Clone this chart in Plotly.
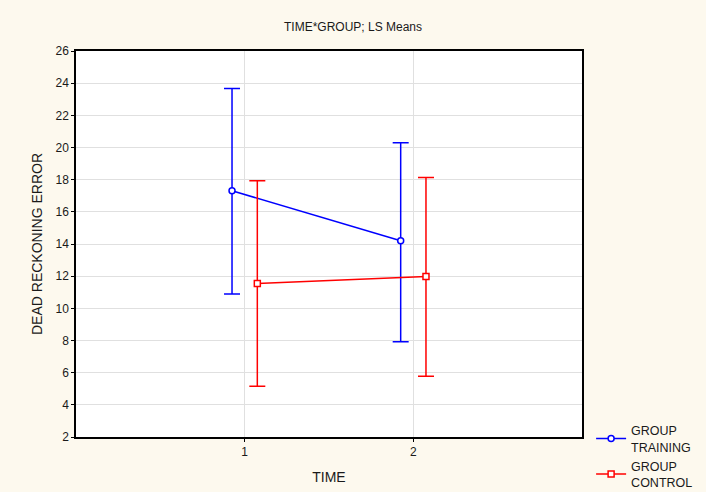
import plotly.graph_objects as go

time_levels = [1, 2]
training_mean = [17.31, 14.2]
training_upper = [23.67, 20.3]
training_lower = [10.89, 7.92]
control_mean = [11.55, 11.98]
control_upper = [17.93, 18.14]
control_lower = [5.15, 5.77]
offset = 0.075

fig = go.Figure()

def add_series(means, upper, lower, name, color, symbol, shift):
    xs = [t + shift for t in time_levels]
    fig.add_trace(go.Scatter(
        x=xs, y=means, name=name, mode="lines+markers",
        line=dict(color=color, width=1.5),
        marker=dict(symbol=symbol, size=6, color="white",
                    line=dict(color=color, width=1.5)),
        error_y=dict(type="data", symmetric=False,
                     array=[u - m for u, m in zip(upper, means)],
                     arrayminus=[m - l for m, l in zip(means, lower)],
                     color=color, thickness=1.5, width=8),
    ))

add_series(training_mean, training_upper, training_lower,
           "GROUP<br>TRAINING", "#0000FF", "circle", -offset)
add_series(control_mean, control_upper, control_lower,
           "GROUP<br>CONTROL", "#FF0000", "square", offset)

font = "Liberation Sans, Arial, sans-serif"
fig.update_layout(
    width=706, height=492,
    paper_bgcolor="#FDF9EE", plot_bgcolor="white",
    margin=dict(l=76, r=124, t=51, b=55, autoexpand=False),
    font=dict(family=font, size=12, color="#1a1a1a"),
    title=dict(text="TIME*GROUP; LS Means", x=0.5, xref="container",
               y=1 - 27 / 492, yanchor="middle", font=dict(size=12)),
    showlegend=True,
    legend=dict(x=1.018, xanchor="left", y=0.055, yanchor="top",
                bgcolor="rgba(0,0,0,0)", font=dict(size=12.5),
                tracegroupgap=0, itemwidth=30),
)
fig.update_xaxes(range=[0, 3], tickvals=time_levels, ticktext=["1", "2"],
                 showgrid=True, gridcolor="#E0E0E0", gridwidth=1,
                 showline=True, linecolor="black", linewidth=1.5, mirror=True,
                 ticks="outside", ticklen=3, tickcolor="black",
                 zeroline=False, title=dict(text="TIME", standoff=14))
fig.update_yaxes(range=[2, 26], dtick=2, tick0=2,
                 showgrid=True, gridcolor="#E0E0E0", gridwidth=1,
                 showline=True, linecolor="black", linewidth=1.5, mirror=True,
                 ticks="outside", ticklen=3, tickcolor="black",
                 zeroline=False, title=dict(text="DEAD RECKONING ERROR", standoff=10))

fig.write_html("out.html", config={"displayModeBar": False},
               post_script="document.body.style.margin='0';document.body.style.overflow='hidden';")
